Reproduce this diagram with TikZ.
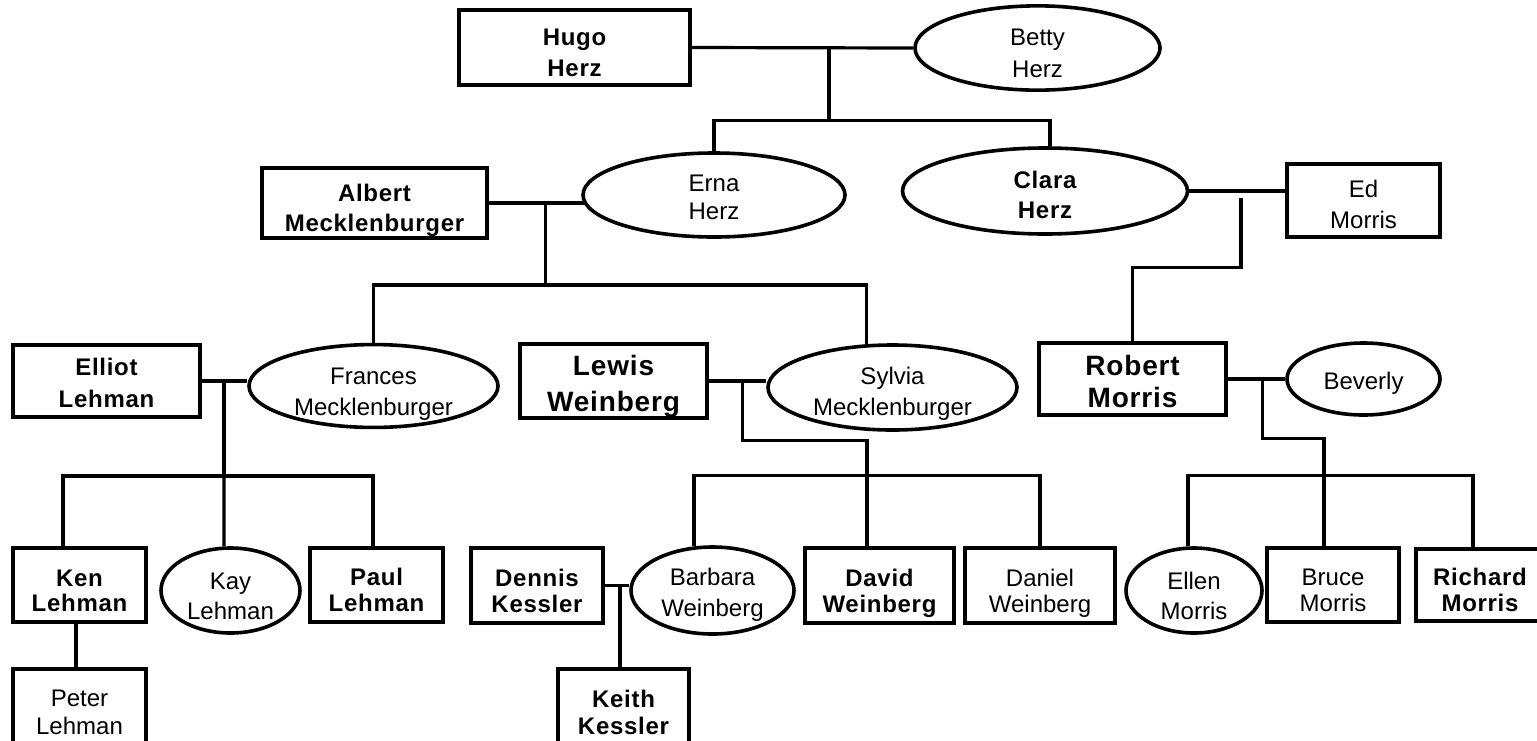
\documentclass[tikz,border=0pt]{standalone}
\usepackage{fontspec}
\setmainfont{Liberation Sans}[BoldFeatures={LetterSpace=3}]
\usetikzlibrary{shapes.geometric,calc}
\newcommand\mylift[1][13.8pt]{\rule{0pt}{#1}}
\tikzset{
  box/.style={draw, rectangle, line width=1.8pt, inner sep=0pt, align=center, text depth=0pt},
  oval/.style={draw, ellipse, line width=1.8pt, inner sep=0pt, align=center, text depth=0pt},
  link/.style={line width=1.6pt},
  pn/.style={font=\fontsize{12}{#1}\selectfont},
  pb/.style={font=\fontsize{12}{#1}\selectfont\bfseries},
  pbl/.style={font=\fontsize{14}{#1}\selectfont\bfseries},
}
\begin{document}
\begin{tikzpicture}[x=0.5pt,y=-0.5pt]
\useasboundingbox (0,0) rectangle (1537,740);
\clip (0,0) rectangle (1537,740);
\fill[white] (0,0) rectangle (1537,740);
% generation 1
\node[box,pb=15.5pt,minimum width=115.5pt,minimum height=37.5pt] (hugo) at (574.5,47.5) {\mylift Hugo\\Herz};
\node[oval,pn=16pt,minimum width=122.5pt,minimum height=40pt] (betty) at (1037.5,48) {\mylift Betty\\Herz};
% generation 2
\node[box,pb=15pt,minimum width=112.5pt,minimum height=35pt] (albert) at (374.5,203) {\mylift Albert\\Mecklenburger};
\node[oval,pn=14pt,minimum width=131pt,minimum height=42pt] (erna) at (714,195) {\mylift[10.8pt]Erna\\Herz};
\node[oval,pb=15pt,minimum width=142.5pt,minimum height=43pt] (clara) at (1045,191) {\mylift[12.8pt]Clara\\Herz};
\node[box,pn=15.5pt,minimum width=76.5pt,minimum height=36.5pt] (ed) at (1363.5,200.5) {\mylift[12.8pt]Ed\\Morris};
% generation 3
\node[box,pb=16pt,minimum width=93.5pt,minimum height=36pt] (elliot) at (106.5,381) {\mylift[10.8pt]Elliot\\Lehman};
\node[oval,pn=15.5pt,minimum width=124.5pt,minimum height=41pt] (frances) at (373.5,386) {\mylift Frances\\Mecklenburger};
\node[box,pbl=18pt,minimum width=93.5pt,minimum height=37pt] (lewis) at (613.5,381) {\mylift[12.2pt]Lewis\\Weinberg};
\node[oval,pn=15.5pt,minimum width=124.5pt,minimum height=42.5pt] (sylvia) at (892.5,387.5) {\mylift[12.8pt]Sylvia\\Mecklenburger};
\node[box,pbl=16pt,minimum width=93.5pt,minimum height=36pt] (robert) at (1132.5,379) {\mylift[12.7pt]Robert\\Morris};
\node[oval,pn=15pt,minimum width=76.5pt,minimum height=36pt] (beverly) at (1363.5,379) {\mylift[10.8pt]Beverly};
% generation 4
\node[box,pb=12.5pt,minimum width=66.5pt,minimum height=37pt] (ken) at (79.5,585) {\mylift Ken\\Lehman};
\node[oval,pn=15pt,minimum width=69.5pt,minimum height=42.5pt] (kay) at (230.5,590.5) {\mylift Kay\\Lehman};
\node[box,pb=13pt,minimum width=66.5pt,minimum height=37pt] (paul) at (376.5,585) {\mylift Paul\\Lehman};
\node[box,pb=13pt,minimum width=66pt,minimum height=37.5pt] (dennis) at (537,585.5) {\mylift Dennis\\Kessler};
\node[oval,pn=15.5pt,minimum width=81.5pt,minimum height=43.5pt] (barbara) at (712.5,590.5) {\mylift[10.8pt]Barbara\\Weinberg};
\node[box,pb=13pt,minimum width=74.5pt,minimum height=37.5pt] (david) at (879.5,585.5) {\mylift David\\Weinberg};
\node[box,pn=13pt,minimum width=75pt,minimum height=37.5pt] (daniel) at (1040,585.5) {\mylift Daniel\\Weinberg};
\node[oval,pn=15pt,minimum width=68pt,minimum height=42.5pt] (ellen) at (1194,590.5) {\mylift Ellen\\Morris};
\node[box,pn=13pt,minimum width=66pt,minimum height=37pt] (bruce) at (1333,585) {\mylift Bruce\\Morris};
\node[box,pb=13pt,minimum width=64pt,minimum height=36pt] (richard) at (1480,585) {\mylift Richard\\Morris};
% generation 5
\node[box,pn=14pt,minimum width=66.5pt,minimum height=38pt] (peter) at (79.5,707) {\mylift Peter\\Lehman};
\node[box,pb=13.5pt,minimum width=65.5pt,minimum height=38pt] (keith) at (623.5,707) {\mylift Keith\\Kessler};

% Hugo + Betty
\draw[link] (hugo.east) -- (betty.west);
\coordinate (hb) at ($(hugo.east)!0.62!(betty.west)$);
\draw[link] (hb) -- ++(0,73) coordinate (hbd);
\draw[link] (erna.north) |- (hbd) -| ($(clara.north)+(5,0)$);
% Albert + Erna
\draw[link,shorten >=-1.5pt] (albert.east) -- (albert.east -| erna.west);
\coordinate (ae) at ($(albert.east)!0.61!(albert.east -| erna.west)$);
\draw[link] (ae) -- ++(0,82) coordinate (aed);
\draw[link] (frances.north) |- (aed) -| ($(sylvia.north)+(-26,1)$);
% Clara + Ed
\draw[link] (clara.east) -- (clara.east -| ed.west);
\coordinate (ce) at ($(clara.east)!0.54!(clara.east -| ed.west)$);
\draw[link] ($(ce)+(0,7)$) |- ($(robert.north)+(0,-74)$) -- (robert.north);
% Elliot + Frances
\draw[link] (elliot.east) -- (elliot.east -| frances.west);
\coordinate (ef) at ($(elliot.east)!0.49!(elliot.east -| frances.west)$);
\draw[link] (ef) -- ++(0,95) coordinate (efd);
\draw[link] ($(ken.north)+(-16.5,0)$) |- (efd) -| ($(paul.north)+(-3.5,0)$);
\draw[link] (efd) -- ($(kay.north)+(-6.5,0)$);
% Ken -> Peter
\draw[link] ($(ken.south)+(-3.5,0)$) -- ($(peter.north)+(-3.5,0)$);
% Lewis + Sylvia
\draw[link] (lewis.east) -- (lewis.east -| sylvia.west);
\coordinate (ls) at ($(lewis.east)!0.59!(lewis.east -| sylvia.west)$);
\draw[link] (ls) |- ($(david.north)+(-12.5,-106)$) -- ($(david.north)+(-12.5,-71)$) coordinate (lsd);
\draw[link] ($(barbara.north)+(-18.5,1)$) |- (lsd) -| (daniel.north);
\draw[link] (lsd) -- ($(david.north)+(-12.5,0)$);
% Dennis + Barbara
\draw[link] (dennis.east) -- (dennis.east -| barbara.west);
\draw[link] ($(keith.north |- dennis.east)+(-3.5,0)$) -- ($(keith.north)+(-3.5,0)$);
% Robert + Beverly
\draw[link] (robert.east) -- (beverly.west);
\coordinate (rb) at ($(robert.east)!0.6!(beverly.west)$);
\draw[link] (rb) |- ($(bruce.north)+(-9,-108)$) -- ($(bruce.north)+(-9,-71)$) coordinate (rbd);
\draw[link] ($(ellen.north)+(-6,0)$) |- (rbd) -| ($(richard.north)+(-7,0)$);
\draw[link] (rbd) -- ($(bruce.north)+(-9,0)$);
\end{tikzpicture}
\end{document}
